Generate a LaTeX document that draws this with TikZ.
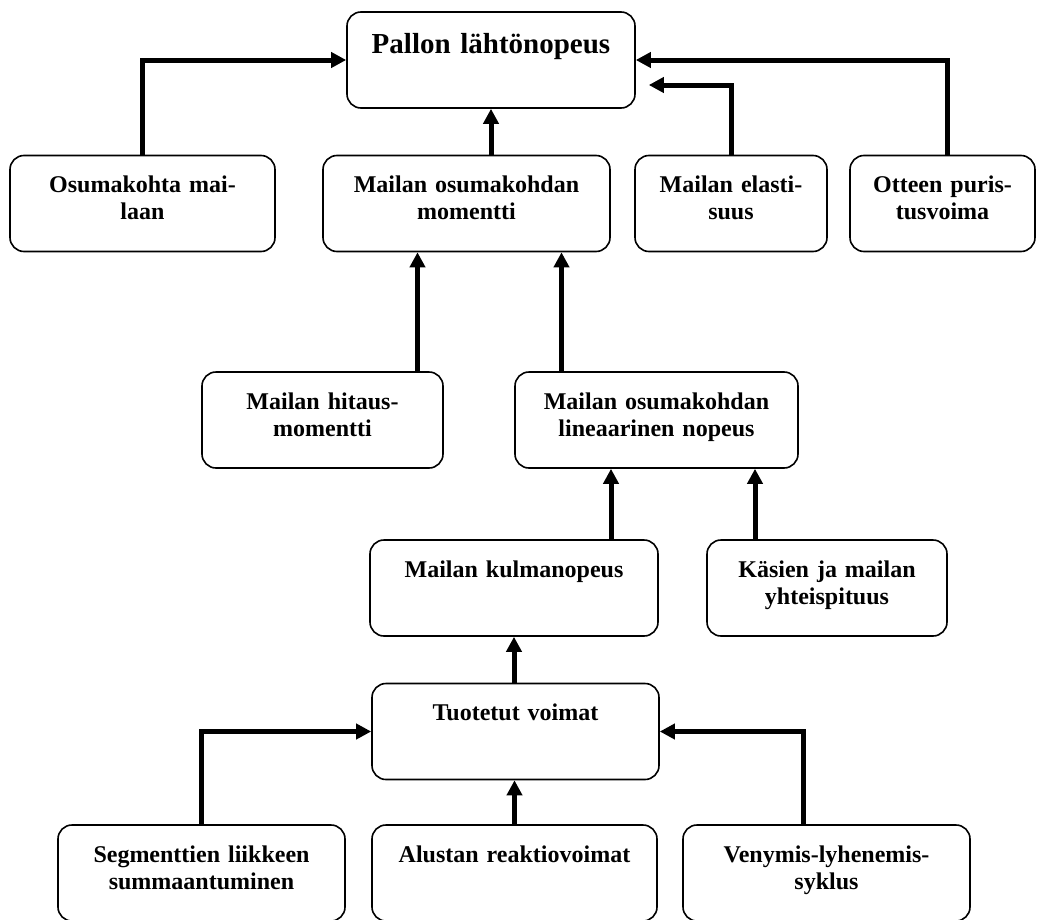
\documentclass[tikz,border=0pt]{standalone}
\usepackage{fontspec}
\setmainfont{Liberation Serif}
\usetikzlibrary{arrows.meta, positioning}
\tikzstyle{arrow}    = [line width=5bp, -{Triangle[width=15bp,length=15bp]}]
\tikzstyle{laatikko} = [draw, line width=1.6bp, rounded corners=14bp, inner sep=0pt, align=center, text height=37bp, text depth=59bp, font=\bfseries\fontsize{24bp}{27bp}\selectfont]

\begin{document}
\begin{tikzpicture}[x=1bp, y=-1bp]
\useasboundingbox (0,0) rectangle (1037,920);

% ylin laatikko
\node[laatikko, text width=288bp, text height=41bp, text depth=55bp, font=\bfseries\fontsize{29bp}{32bp}\selectfont] (lahto) at (491,60) {Pallon lähtönopeus};

% toinen rivi
\node[laatikko, text width=265bp] (osuma) at (142.5,203.5) {Osumakohta mai-\\laan};
\node[laatikko, text width=287bp] (momentti) at (466.5,203.5) {Mailan osumakohdan\\momentti};
\node[laatikko, text width=192bp] (elast) at (731,203.5) {Mailan elasti-\\suus};
\node[laatikko, text width=185bp] (ote) at (942.5,203.5) {Otteen puris-\\tusvoima};

% kolmas rivi
\node[laatikko, text width=241bp] (hitaus) at (322.5,420) {Mailan hitaus-\\momentti};
\node[laatikko, text width=283bp] (lineaar) at (656.5,420) {Mailan osumakohdan\\lineaarinen nopeus};

% neljäs rivi
\node[laatikko, text width=288bp] (kulma) at (514,588) {Mailan kulmanopeus};
\node[laatikko, text width=240bp] (kasi) at (827,588) {Käsien ja mailan\\yhteispituus};

% tuotetut voimat
\node[laatikko, text width=287bp] (voimat) at (515.5,731.5) {Tuotetut voimat};

% alin rivi
\node[laatikko, text width=287bp] (segm) at (201.5,873) {Segmenttien liikkeen\\summaantuminen};
\node[laatikko, text width=285bp] (alusta) at (514.5,873) {Alustan reaktiovoimat};
\node[laatikko, text width=287bp] (venym) at (826.5,873) {Venymis-lyhenemis-\\syklus};

% nuolten lähtöpisteet
\coordinate (o1) at ([xshift=4.5bp]ote.north);
\coordinate (h1) at ([xshift=95bp]hitaus.north);
\coordinate (l1) at ([xshift=-95bp]lineaar.north);
\coordinate (k1) at ([xshift=97bp]kulma.north);
\coordinate (k2) at ([xshift=-72bp]kasi.north);
\coordinate (v1) at ([xshift=-23.5bp]venym.north);
\coordinate (e1) at ([yshift=-25bp]lahto.east);

% nuolet ylimpään laatikkoon
\draw[arrow] (osuma.north) |- (lahto.west);
\draw[arrow] (momentti.north -| lahto.south) -- (lahto.south);
\draw[arrow, shorten >=13bp] (elast.north) |- (e1);
\draw[arrow] (o1) |- (lahto.east);

% nuolet momenttiin
\draw[arrow] (h1) -- (h1 |- momentti.south);
\draw[arrow] (l1) -- (l1 |- momentti.south);

% nuolet lineaariseen nopeuteen
\draw[arrow] (k1) -- (k1 |- lineaar.south);
\draw[arrow] (k2) -- (k2 |- lineaar.south);

% nuoli kulmanopeuteen
\draw[arrow] (voimat.north -| kulma.south) -- (kulma.south);

% nuolet tuotettuihin voimiin
\draw[arrow] (segm.north) |- (voimat.west);
\draw[arrow] (alusta.north) -- (alusta.north |- voimat.south);
\draw[arrow] (v1) |- (voimat.east);

\end{tikzpicture}
\end{document}
